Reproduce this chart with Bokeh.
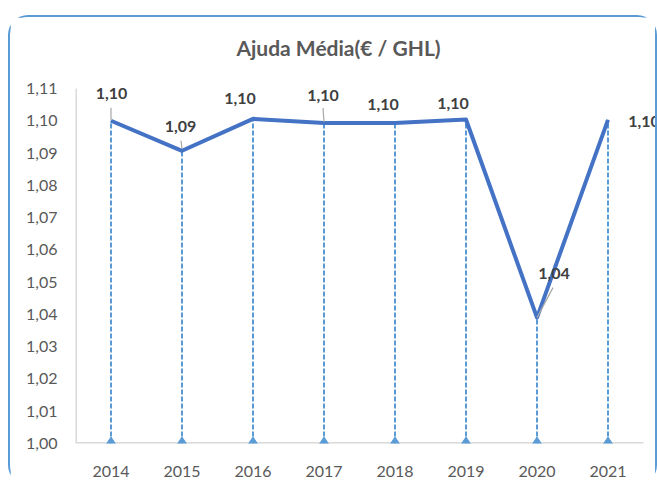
from bokeh.plotting import figure
from bokeh.models import Range1d, FixedTicker, CustomJSTickFormatter, ColumnDataSource, LabelSet, Label
from bokeh.core.properties import value
from bokeh.embed import file_html
from bokeh.resources import INLINE

# ---- data ----
years = ["2014", "2015", "2016", "2017", "2018", "2019", "2020", "2021"]
values = [1.100, 1.0907, 1.1006, 1.0993, 1.0993, 1.1004, 1.0390, 1.1003]
labels = ["1,10", "1,09", "1,10", "1,10", "1,10", "1,10", "1,04", "1,10"]
y_ticks = [1.00, 1.01, 1.02, 1.03, 1.04, 1.05, 1.06, 1.07, 1.08, 1.09, 1.10, 1.11]
title_text = "Ajuda Média(€ / GHL)"

# ---- layout / styling (pixel offsets of the data labels) ----
label_dx = [0.5, -1.5, -13, -1, -12, -13, 17, 36]
label_dy = [27, 24, 20.5, 27.7, 18.7, 16.3, 43.7, -2]
leaders = {0: ((0, 1), (0, 13)), 1: ((0, 2), (-1, 10)), 3: ((0, 1), (-1, 15)), 6: ((0, 0), (16, 30))}

FONT = "Lato"
W, H = 649, 470
ML, MR = 65, 4
TOP_PAD = 71          # space between canvas top and the 1.11 gridline
PLOT_H = 355          # height of the 1.00..1.11 span
MB = H - TOP_PAD - PLOT_H
CAT_PX = 71
EXTRA_RIGHT = (W - ML - MR) / CAT_PX - len(years)
TITLE_CX, TITLE_CY = 263, 30   # title centre, px from plot-left / canvas-top

xs = [i + 0.5 for i in range(len(years))]
y0 = y_ticks[0]
y1 = y_ticks[-1]
px_y = PLOT_H / (y1 - y0)
y_top = y1 + TOP_PAD / px_y

p = figure(width=W, height=H, output_backend="svg", toolbar_location=None,
           x_range=Range1d(0, len(years) + EXTRA_RIGHT), y_range=Range1d(y0, y_top),
           min_border_left=ML, min_border_right=MR, min_border_top=0, min_border_bottom=MB)
p.styles = {"position": "relative", "top": "15px", "left": "8px", "border": "2px solid #5B9BD5",
            "border-bottom": "none", "border-radius": "20px"}
p.outline_line_color = None
p.grid.visible = False

# axes
p.xaxis.ticker = FixedTicker(ticks=xs)
p.xaxis.major_label_overrides = {x: y for x, y in zip(xs, years)}
p.yaxis.ticker = FixedTicker(ticks=y_ticks)
p.yaxis.formatter = CustomJSTickFormatter(code="return tick.toFixed(2).replace('.', ',');")
for ax in (p.xaxis[0], p.yaxis[0]):
    ax.axis_line_color = None
    ax.major_tick_line_color = None
    ax.minor_tick_line_color = None
    ax.major_label_text_font = FONT
    ax.major_label_text_font_size = "16px"
    ax.major_label_text_color = "#595959"
p.yaxis.major_label_standoff = 12
p.xaxis.major_label_standoff = 16

src = ColumnDataSource(dict(x=xs, y=values, base=[y0] * len(xs), text=labels,
                            dx=label_dx, dy=label_dy))

# axis lines limited to the value / category span
p.segment(x0=[0, 0], y0=[y0, y0], x1=[len(years), 0], y1=[y0, y1],
          line_color="#D9D9D9", line_width=3)

# drop lines
p.segment(x0="x", y0="base", x1="x", y1="y", source=src, line_color="#5B9BD5",
          line_width=2, line_dash="5 2")
p.scatter(x="x", y="base", source=src, marker="diamond", size=13, fill_color="#5B9BD5",
          line_color="#5B9BD5")

# main line
p.line(x="x", y="y", source=src, line_color="#4472C4", line_width=4, line_join="round")

# leader lines
lx0, ly0, lx1, ly1 = [], [], [], []
for i, ((a, b), (c, d)) in leaders.items():
    lx0.append(xs[i] + a / CAT_PX)
    ly0.append(values[i] + b / px_y)
    lx1.append(xs[i] + c / CAT_PX)
    ly1.append(values[i] + d / px_y)
p.segment(x0=lx0, y0=ly0, x1=lx1, y1=ly1, line_color="#A6A6A6", line_width=1.2)

# data labels
p.add_layout(LabelSet(x="x", y="y", text="text", x_offset="dx", y_offset="dy", source=src,
                      text_align="center", text_baseline="middle", text_font=value(FONT),
                      text_font_size=value("16px"), text_font_style="bold", text_color="#404040"))

# title
p.add_layout(Label(x=TITLE_CX / CAT_PX, y=y_top - TITLE_CY / px_y, text=title_text,
                   text_align="center", text_baseline="middle", text_font=FONT,
                   text_font_size="21px", text_font_style="bold", text_color="#595959"))

open("out.html", "w").write(file_html(p, INLINE))
